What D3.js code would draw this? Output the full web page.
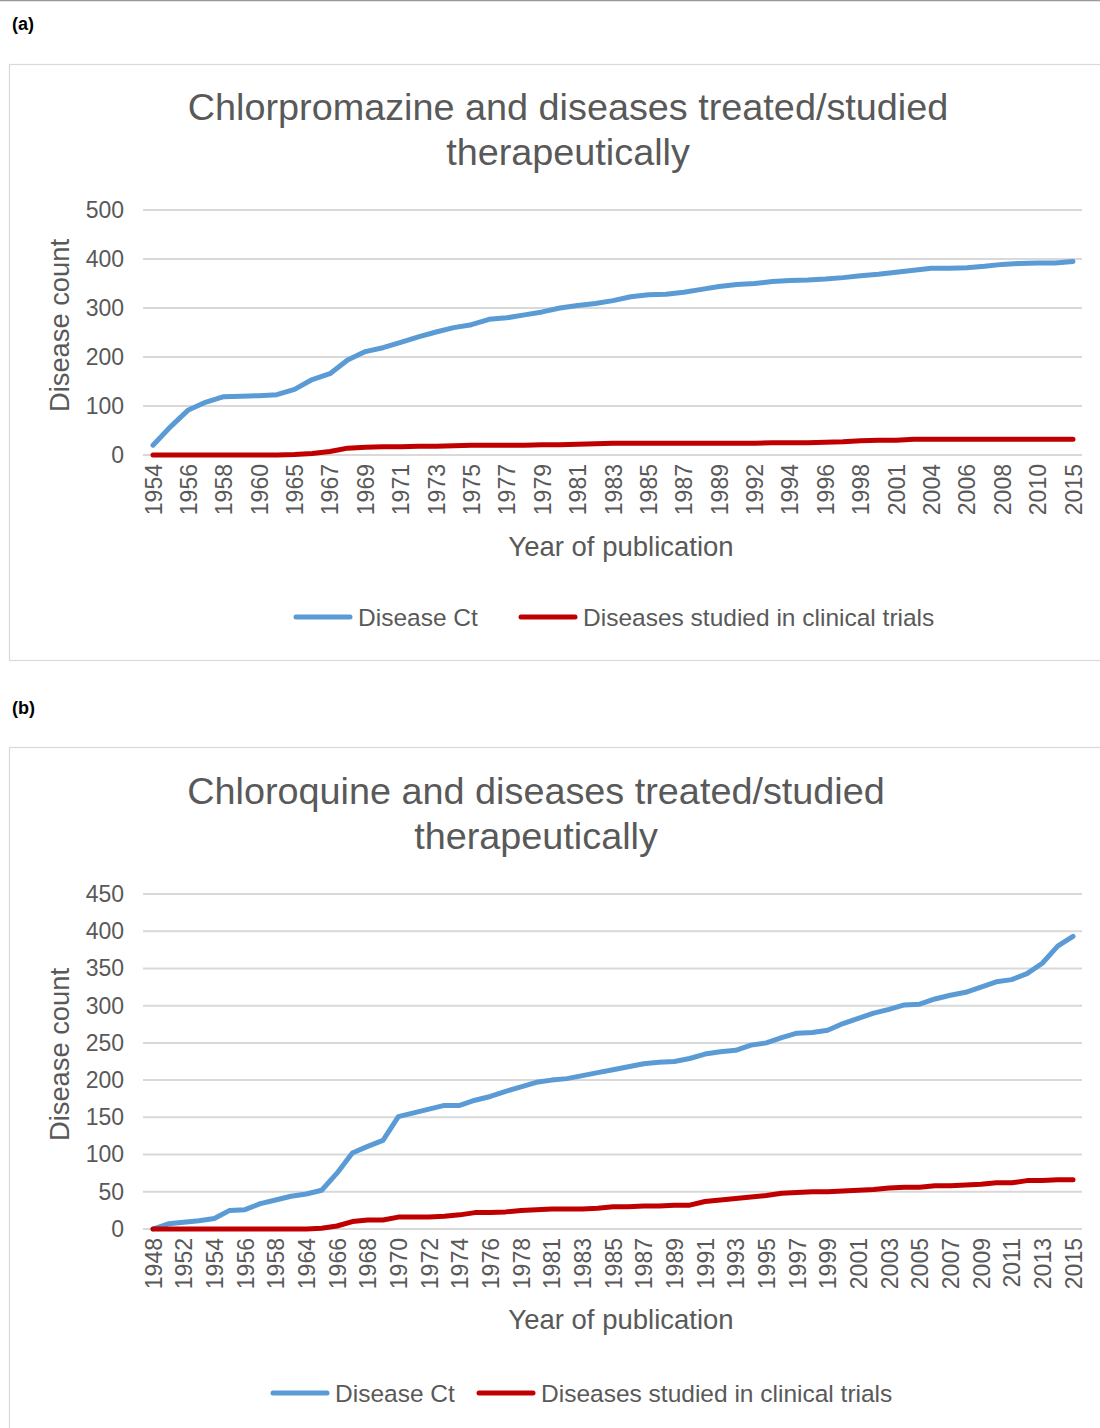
<!DOCTYPE html>
<html>
<head>
<meta charset="utf-8">
<script src="https://cdn.jsdelivr.net/npm/d3@7"></script>
<style>
  body { margin: 0; background: #fff; }
  svg text { font-family: "Liberation Sans", Arial, Helvetica, sans-serif; }
</style>
</head>
<body>
<svg id="fig" width="1100" height="1428"></svg>
<script>
// chart (a) - chlorpromazine
const yearsA = ['1954','1955','1956','1957','1958','1959','1960','1962','1965','1966','1967','1968','1969','1970','1971','1972','1973','1974','1975','1976','1977','1978','1979','1980','1981','1982','1983','1984','1985','1986','1987','1988','1989','1991','1992','1993','1994','1995','1996','1997','1998','2000','2001','2003','2004','2005','2006','2007','2008','2009','2010','2012','2015']
const diseaseCtA = [20,58,92,108,119,120,121,123,134,154,166,194,211,219,230,241,251,260,266,277,280,286,292,300,305,309,315,323,327,328,332,338,344,348,350,354,356,357,359,362,366,369,373,377,381,381,382,385,389,391,392,392,395]
const trialsA = [0,0,0,0,0,0,0,0,1,3,7,14,16,17,17,18,18,19,20,20,20,20,21,21,22,23,24,24,24,24,24,24,24,24,24,25,25,25,26,27,29,30,30,32,32,32,32,32,32,32,32,32,32]
const ticksA = [0,100,200,300,400,500]

// chart (b) - chloroquine
const yearsB = ['1948','1950','1952','1953','1954','1955','1956','1957','1958','1960','1964','1965','1966','1967','1968','1969','1970','1971','1972','1973','1974','1975','1976','1977','1978','1980','1981','1982','1983','1984','1985','1986','1987','1988','1989','1990','1991','1992','1993','1994','1995','1996','1997','1998','1999','2000','2001','2002','2003','2004','2005','2006','2007','2008','2009','2010','2011','2012','2013','2014','2015']
const diseaseCtB = [0,7,9,11,14,25,26,34,39,44,47,52,75,102,111,119,151,156,161,166,166,173,178,185,191,197,200,202,206,210,214,218,222,224,225,229,235,238,240,247,250,257,263,264,267,276,283,290,295,301,302,309,314,318,325,332,335,343,357,380,393]
const trialsB = [0,0,0,0,0,0,0,0,0,0,0,1,4,10,12,12,16,16,16,17,19,22,22,23,25,26,27,27,27,28,30,30,31,31,32,32,37,39,41,43,45,48,49,50,50,51,52,53,55,56,56,58,58,59,60,62,62,65,65,66,66]
const ticksB = [0,50,100,150,200,250,300,350,400,450]

const seriesNames = ['Disease Ct', 'Diseases studied in clinical trials']
const colors = ['#5b9bd5', '#c00000']
const textCol = '#595959'
const gridCol = '#d9d9d9'

const svg = d3.select('#fig')

svg.append('line')
.attr('x1', 0).attr('x2', 1100)
.attr('y1', 0.5).attr('y2', 0.5)
.style('stroke', '#999').style('stroke-width', 1.5)

const makeChart = (cfg) => {

	const g = svg.append('g')

	g.append('text')
	.attr('x', 12).attr('y', cfg.tag.y)
	.style('font-size', '18px').style('font-weight', 'bold').style('fill', '#000')
	.text(cfg.tag.text)

	g.append('rect')
	.attr('x', 9.5).attr('y', cfg.box[0] + 0.5)
	.attr('width', 1100).attr('height', cfg.box[1] - cfg.box[0])
	.style('fill', 'none').style('stroke', gridCol).style('stroke-width', 1.2)

	cfg.title.forEach((t, i) => {
		g.append('text')
		.attr('x', cfg.titleX).attr('y', cfg.titleY + i * 45)
		.attr('text-anchor', 'middle')
		.style('font-size', '37.8px').style('fill', textCol)
		.text(t)
	})

	let x = d3.scalePoint()
	.domain(cfg.years)
	.range([153, 1073])

	let y = d3.scaleLinear()
	.domain([0, d3.max(cfg.ticks)])
	.range([cfg.plot[1], cfg.plot[0]])

	// gridlines
	g.append('g')
	.selectAll('line')
	.data(cfg.ticks)
	.enter()
	.append('line')
	.attr('x1', 143).attr('x2', 1082)
	.attr('y1', d => y(d)).attr('y2', d => y(d))
	.style('stroke', gridCol).style('stroke-width', 2)

	const yAxis = g.append('g')
	.attr('transform', 'translate(124,0)')
	.call(d3.axisLeft(y).tickValues(cfg.ticks).tickSize(0).tickPadding(0))

	yAxis.select('.domain').remove()
	yAxis.selectAll('text')
	.style('font-size', '23px').style('fill', textCol)
	.attr('font-family', null)

	const xAxis = g.append('g')
	.attr('transform', `translate(0,${cfg.plot[1]})`)
	.call(d3.axisBottom(x).tickValues(cfg.years.filter((d, i) => i % 2 === 0)).tickSize(0))

	xAxis.select('.domain').remove()
	xAxis.selectAll('text')
	.attr('transform', 'rotate(-90)')
	.attr('text-anchor', 'end')
	.attr('x', -9).attr('y', 0).attr('dy', '0.35em')
	.attr('font-family', null)
	.style('font-size', '23px').style('fill', textCol)

	g.append('text')
	.attr('transform', `translate(69,${(cfg.plot[0] + cfg.plot[1]) / 2 - 7}) rotate(-90)`)
	.attr('text-anchor', 'middle')
	.style('font-size', '27.3px').style('fill', textCol)
	.text('Disease count')

	g.append('text')
	.attr('x', 621).attr('y', cfg.xTitleY)
	.attr('text-anchor', 'middle')
	.style('font-size', '27.5px').style('fill', textCol)
	.text('Year of publication')

	const line = d3.line()
	.x((d, i) => x(cfg.years[i]))
	.y(d => y(d))

	;[cfg.ct, cfg.trials].forEach((s, k) => {
		g.append('path')
		.datum(s)
		.attr('d', line)
		.style('fill', 'none')
		.style('stroke', colors[k])
		.style('stroke-width', 5)
		.style('stroke-linejoin', 'round')
		.style('stroke-linecap', 'round')
	})

	// legend
	seriesNames.forEach((n, k) => {
		let lx = cfg.legendX[k]
		g.append('line')
		.attr('x1', lx).attr('x2', lx + 54)
		.attr('y1', cfg.legendY).attr('y2', cfg.legendY)
		.style('stroke', colors[k]).style('stroke-width', 5).style('stroke-linecap', 'round')

		g.append('text')
		.attr('x', lx + 62).attr('y', cfg.legendY).attr('dy', '0.35em')
		.style('font-size', '24.5px').style('fill', textCol)
		.text(n)
	})
}

makeChart({
	tag: {text: '(a)', y: 30},
	box: [64, 660],
	title: ['Chlorpromazine and diseases treated/studied', 'therapeutically'],
	titleX: 568, titleY: 120,
	years: yearsA, ct: diseaseCtA, trials: trialsA, ticks: ticksA,
	plot: [210, 455],
	xTitleY: 556,
	legendY: 617, legendX: [296, 521]
})

makeChart({
	tag: {text: '(b)', y: 714},
	box: [747, 1440],
	title: ['Chloroquine  and diseases treated/studied', 'therapeutically'],
	titleX: 536, titleY: 804,
	years: yearsB, ct: diseaseCtB, trials: trialsB, ticks: ticksB,
	plot: [894, 1229],
	xTitleY: 1329,
	legendY: 1393, legendX: [273, 479]
})
</script>
</body>
</html>
